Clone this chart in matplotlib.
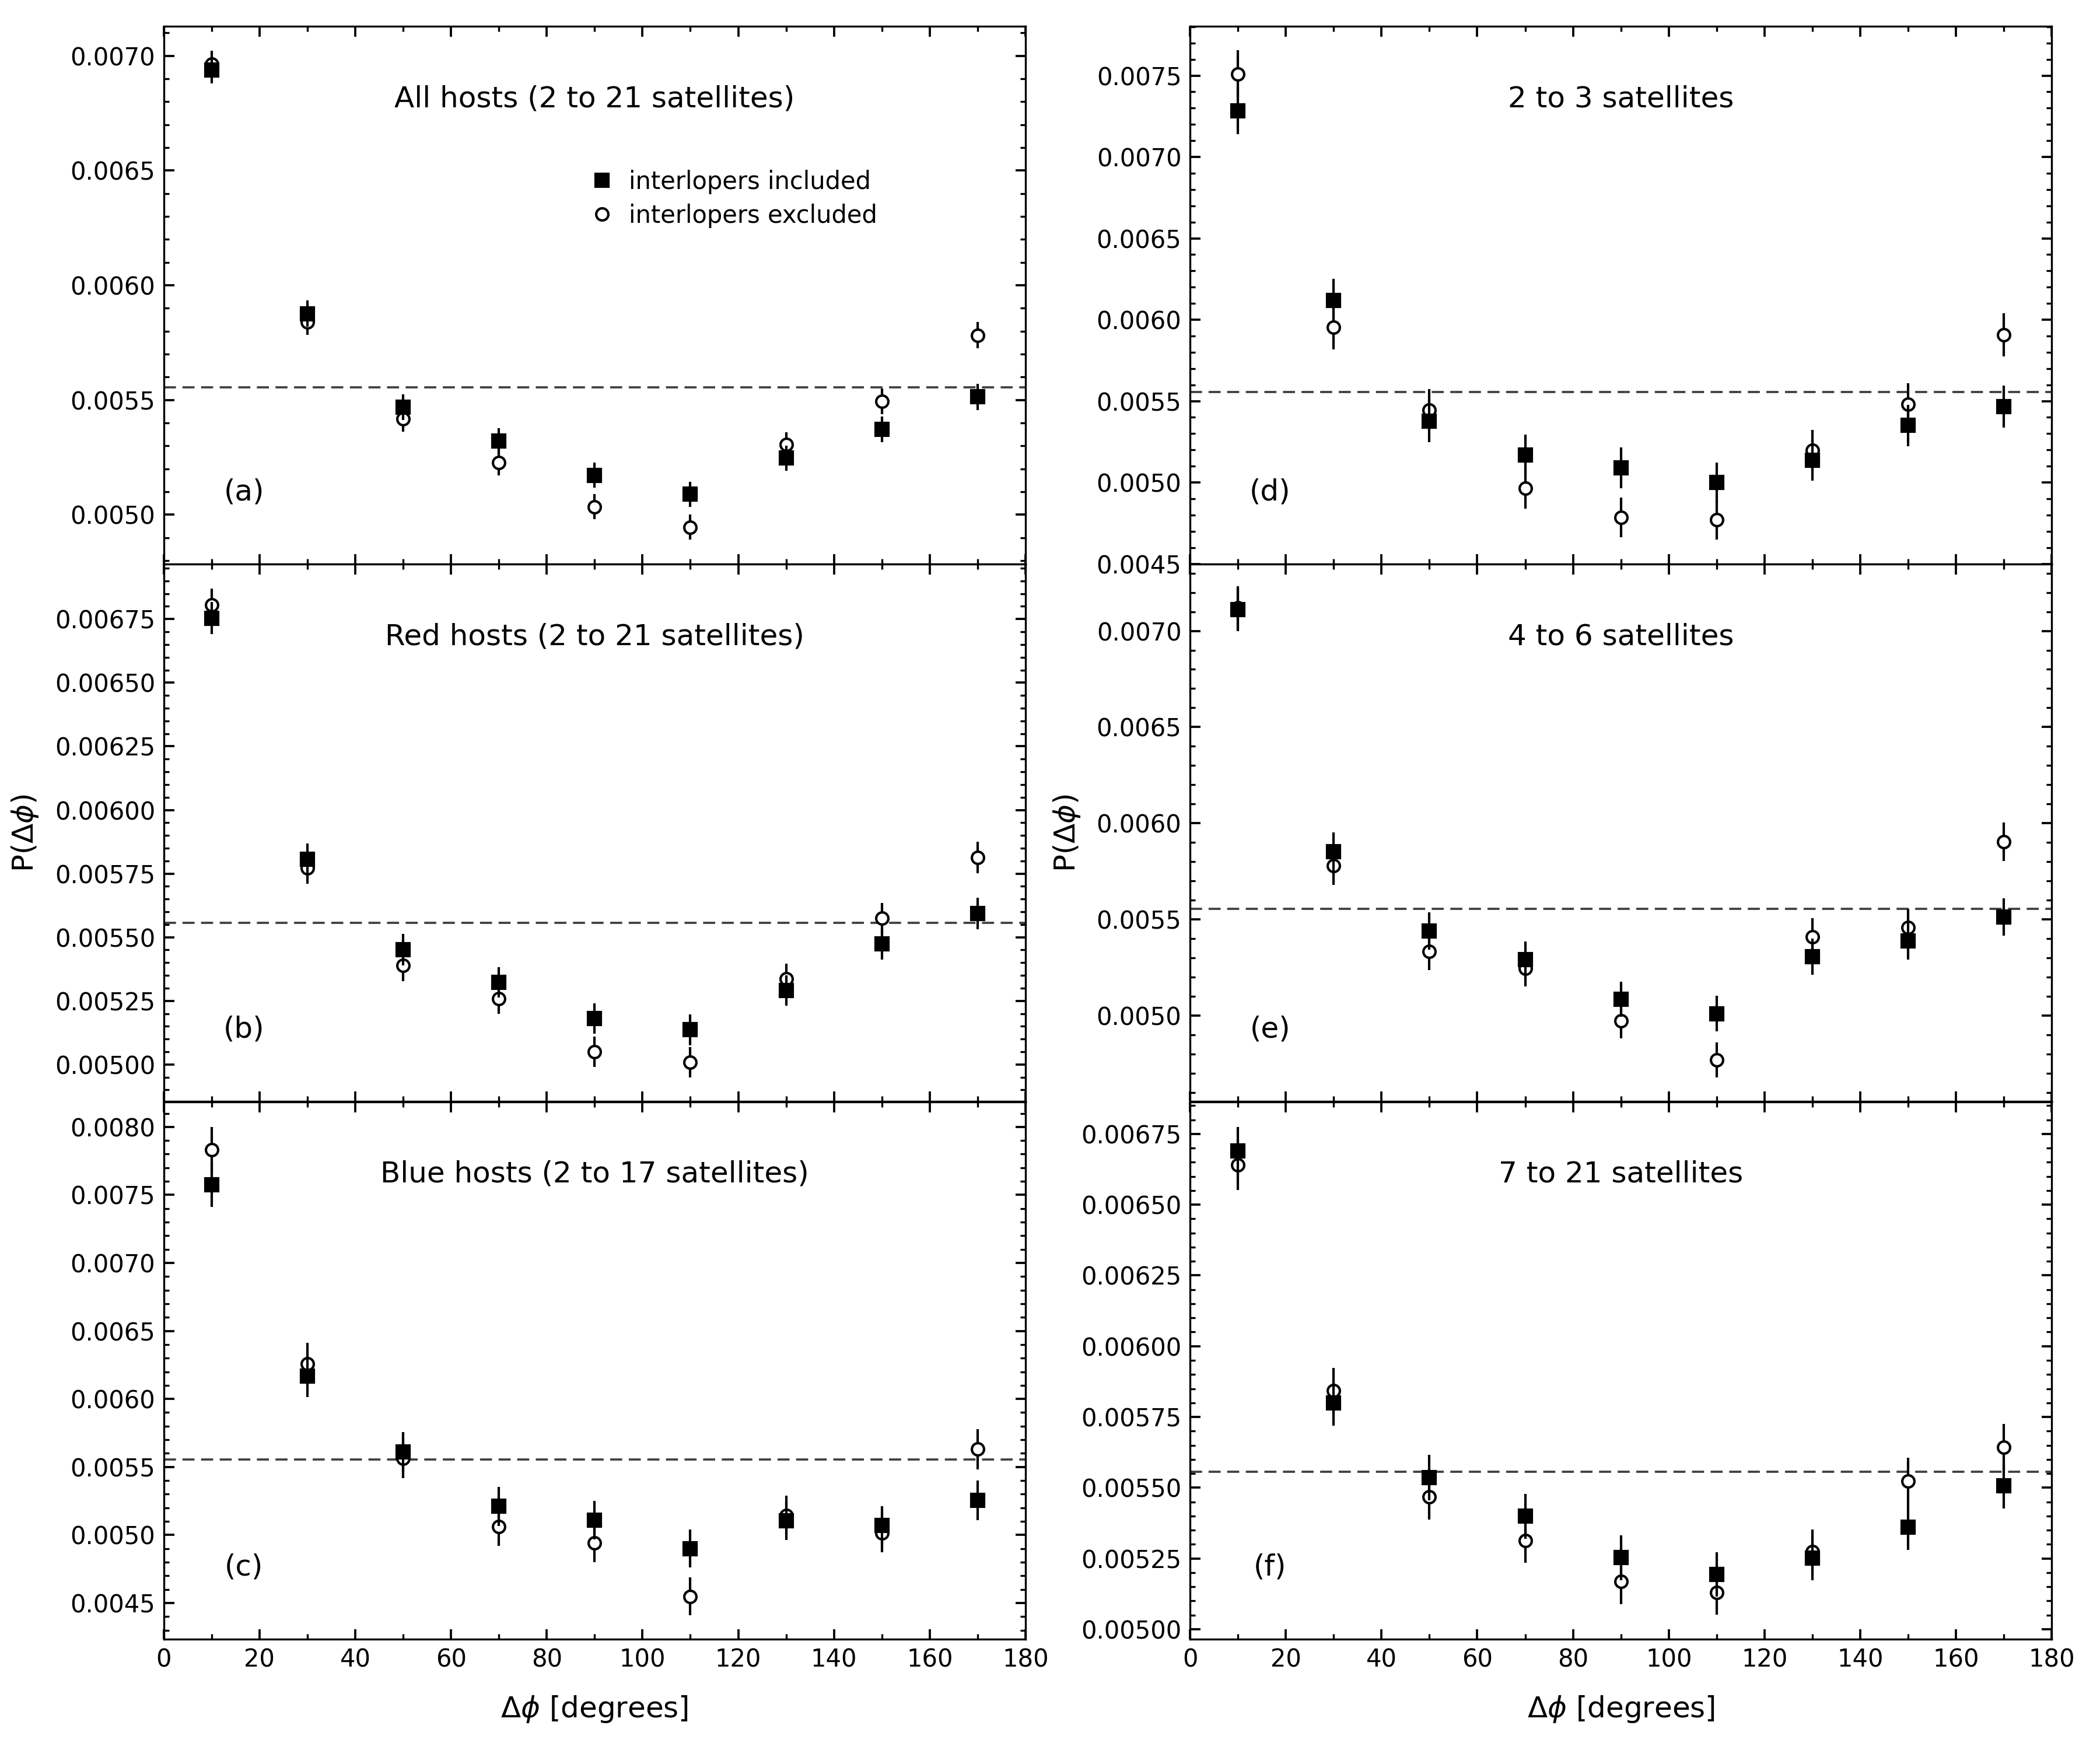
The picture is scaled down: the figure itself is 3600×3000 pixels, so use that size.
import matplotlib
matplotlib.use("Agg")
import matplotlib.pyplot as plt
from matplotlib.ticker import MultipleLocator, AutoMinorLocator, FormatStrFormatter
from matplotlib.lines import Line2D

dphi = [10, 30, 50, 70, 90, 110, 130, 150, 170]

# panel (a) all hosts
a_inc = [0.006938, 0.005876, 0.005470, 0.005321, 0.005172, 0.005089, 0.005247, 0.005373, 0.005514]
a_inc_err = [0.000058, 0.000057, 0.000056, 0.000056, 0.000055, 0.000055, 0.000055, 0.000056, 0.000057]
a_exc = [0.006964, 0.005840, 0.005419, 0.005228, 0.005035, 0.004946, 0.005305, 0.005495, 0.005782]
a_exc_err = [0.000058, 0.000057, 0.000056, 0.000056, 0.000055, 0.000055, 0.000055, 0.000056, 0.000057]

# panel (b) red hosts
b_inc = [0.006754, 0.005806, 0.005451, 0.005322, 0.005180, 0.005136, 0.005291, 0.005473, 0.005594]
b_inc_err = [0.000064, 0.000062, 0.000061, 0.000060, 0.000060, 0.000060, 0.000060, 0.000061, 0.000062]
b_exc = [0.006806, 0.005773, 0.005389, 0.005259, 0.005050, 0.005009, 0.005337, 0.005574, 0.005813]
b_exc_err = [0.000064, 0.000062, 0.000061, 0.000060, 0.000060, 0.000060, 0.000060, 0.000061, 0.000062]

# panel (c) blue hosts
c_inc = [0.007576, 0.006169, 0.005610, 0.005210, 0.005108, 0.004900, 0.005105, 0.005069, 0.005255]
c_inc_err = [0.000165, 0.000155, 0.000148, 0.000145, 0.000143, 0.000140, 0.000143, 0.000143, 0.000145]
c_exc = [0.007832, 0.006256, 0.005565, 0.005063, 0.004942, 0.004548, 0.005144, 0.005014, 0.005631]
c_exc_err = [0.000168, 0.000155, 0.000148, 0.000145, 0.000143, 0.000140, 0.000143, 0.000143, 0.000148]

# panel (d) 2 to 3 satellites
d_inc = [0.007285, 0.006117, 0.005378, 0.005170, 0.005090, 0.005000, 0.005136, 0.005350, 0.005467]
d_inc_err = [0.000145, 0.000133, 0.000130, 0.000125, 0.000125, 0.000122, 0.000125, 0.000128, 0.000130]
d_exc = [0.007510, 0.005952, 0.005444, 0.004964, 0.004786, 0.004770, 0.005197, 0.005481, 0.005908]
d_exc_err = [0.000146, 0.000133, 0.000128, 0.000124, 0.000122, 0.000120, 0.000126, 0.000130, 0.000133]

# panel (e) 4 to 6 satellites
e_inc = [0.007110, 0.005852, 0.005440, 0.005290, 0.005085, 0.005010, 0.005306, 0.005387, 0.005513]
e_inc_err = [0.000112, 0.000100, 0.000096, 0.000094, 0.000092, 0.000092, 0.000094, 0.000096, 0.000098]
e_exc = [0.007120, 0.005780, 0.005333, 0.005246, 0.004973, 0.004770, 0.005410, 0.005459, 0.005904]
e_exc_err = [0.000112, 0.000100, 0.000096, 0.000094, 0.000092, 0.000090, 0.000096, 0.000096, 0.000100]

# panel (f) 7 to 21 satellites
f_inc = [0.006689, 0.005799, 0.005536, 0.005399, 0.005253, 0.005194, 0.005251, 0.005360, 0.005506]
f_inc_err = [0.000085, 0.000080, 0.000080, 0.000079, 0.000079, 0.000078, 0.000078, 0.000080, 0.000080]
f_exc = [0.006640, 0.005842, 0.005467, 0.005314, 0.005168, 0.005129, 0.005273, 0.005523, 0.005643]
f_exc_err = [0.000088, 0.000082, 0.000080, 0.000079, 0.000079, 0.000078, 0.000079, 0.000082, 0.000082]

titles = ["All hosts (2 to 21 satellites)", "Red hosts (2 to 21 satellites)",
          "Blue hosts (2 to 17 satellites)", "2 to 3 satellites",
          "4 to 6 satellites", "7 to 21 satellites"]
tags = ["(a)", "(b)", "(c)", "(d)", "(e)", "(f)"]
ylims = [(0.004786, 0.00713), (0.004854, 0.006967), (0.004232, 0.008186),
         (0.0045, 0.007804), (0.004553, 0.0073485), (0.004964, 0.006864)]
ysteps = [0.0005, 0.00025, 0.0005, 0.0005, 0.0005, 0.00025]
uniform = 1.0 / 180.0

series = [(a_inc, a_inc_err, a_exc, a_exc_err), (b_inc, b_inc_err, b_exc, b_exc_err),
          (c_inc, c_inc_err, c_exc, c_exc_err), (d_inc, d_inc_err, d_exc, d_exc_err),
          (e_inc, e_inc_err, e_exc, e_exc_err), (f_inc, f_inc_err, f_exc, f_exc_err)]

plt.rcParams['font.family'] = ['DejaVu Sans']
fig, axes = plt.subplots(3, 2, figsize=(12, 10), dpi=300, sharex=True)
fig.subplots_adjust(left=0.078, right=0.977, top=0.9851, bottom=0.0632,
                    hspace=0.0, wspace=0.191)

order = [(0, 0), (1, 0), (2, 0), (0, 1), (1, 1), (2, 1)]
for k, (r, c) in enumerate(order):
    ax = axes[r, c]
    inc, inc_err, exc, exc_err = series[k]
    ax.axhline(uniform, color='0.25', lw=0.9, ls=(0, (5.5, 3)), zorder=1)
    ax.errorbar(dphi, exc, yerr=exc_err, fmt='o', mfc='white', mec='k', ecolor='k',
                ms=5.0, mew=1.0, elinewidth=1.0, capsize=0, zorder=2)
    ax.errorbar(dphi, inc, yerr=inc_err, fmt='s', color='k', ms=5.1,
                elinewidth=1.0, capsize=0, zorder=3)
    ax.set_xlim(0, 180)
    ax.set_ylim(*ylims[k])
    ax.xaxis.set_major_locator(MultipleLocator(20))
    ax.xaxis.set_minor_locator(MultipleLocator(10))
    ax.yaxis.set_major_locator(MultipleLocator(ysteps[k]))
    ax.yaxis.set_minor_locator(AutoMinorLocator())
    ax.yaxis.set_major_formatter(FormatStrFormatter('%.4f' if ysteps[k] == 0.0005 else '%.5f'))
    ax.tick_params(which='both', direction='in', top=True, right=True, labelsize=10)
    ax.tick_params(which='major', length=4.2, width=0.9)
    ax.tick_params(which='minor', length=2.2, width=0.8)
    ax.text(0.5, 0.865, titles[k], transform=ax.transAxes, ha='center', va='center', fontsize=12)
    ax.text(0.093, 0.134, tags[k], transform=ax.transAxes, ha='center', va='center', fontsize=12)
    if r == 2:
        ax.set_xlabel(r'$\Delta\phi$ [degrees]', fontsize=12, labelpad=9)
    if r == 1:
        ax.set_ylabel(r'P($\Delta\phi$)', fontsize=12, labelpad=6)

handles = [Line2D([], [], ls='none', marker='s', color='k', ms=5.1),
           Line2D([], [], ls='none', marker='o', mfc='white', mec='k', ms=5.0, mew=1.0)]
axes[0, 0].legend(handles, ['interlopers included', 'interlopers excluded'],
                  loc='center left', bbox_to_anchor=(0.475, 0.679), frameon=False,
                  fontsize=10, handlelength=1.0, handletextpad=0.6, labelspacing=0.38,
                  borderpad=0.2)

fig.savefig('out.png', dpi=300)
